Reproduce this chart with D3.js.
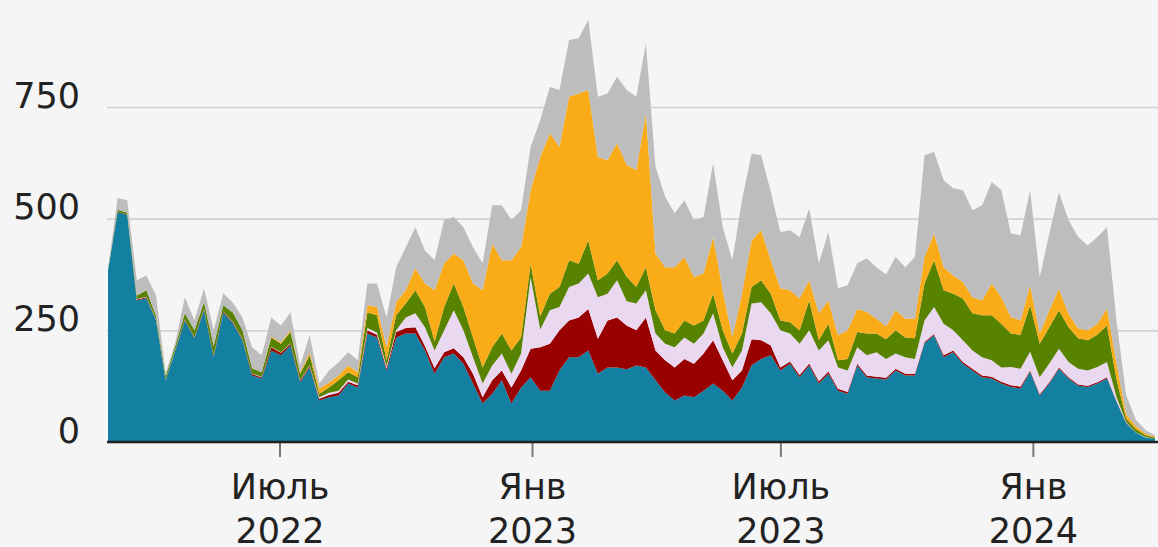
<!DOCTYPE html>
<html>
<head>
<meta charset="utf-8">
<script src="https://cdn.jsdelivr.net/npm/d3@7"></script>
<style>
  body { margin: 0; background: #f5f5f5; }
  svg { display: block; font-family: "DejaVu Sans", sans-serif; }
</style>
</head>
<body>
<svg id="chart"></svg>
<script>
// weekly points, first week and count
const firstWeek = "2022-02-26";
const weekCount = 110;

const seriesKeys = ["teal", "red", "lavender", "green", "orange", "grey"];
const seriesColors = ["#1380A1", "#990000", "#EAD8F0", "#588300", "#FAAB18", "#BDBDBD"];

const teal = [384,515,508,317,322,272,138,205,272,232, 295,190,290,266,228,149,142,205,194,216,
  134,167,93,100,104,131,122,243,234,160, 234,243,243,205,153,190,198,175,131,86,
  108,138,86,122,145,115,115,160,190,190, 205,153,167,167,163,171,167,138,111,93,
  104,100,115,131,115,93,122,172,186,194, 160,175,145,171,131,153,115,108,171,145,
  142,140,160,149,149,221,239,190,201,175, 160,145,142,131,123,120,157,104,131,164,
  142,126,123,131,142,90,42,21,10,7];
const red = [0,1,1,2,2,1,1,1,2,2, 2,2,2,2,2,3,3,7,6,4,
  3,3,4,5,6,4,5,7,6,5, 12,12,14,10,12,11,12,15,22,14,
  30,22,36,38,64,97,105,90,82,89, 93,78,105,112,98,79,112,67,72,74,
  82,75,83,97,68,45,38,58,42,22, 7,5,5,5,5,5,4,4,4,4,
  4,4,4,4,4,3,3,4,4,4, 4,4,4,4,4,4,3,3,3,3,
  3,3,3,3,3,1,1,0,0,0];
const lavender = [0,0,0,1,1,1,1,1,1,1, 1,1,1,1,1,1,1,1,1,1,
  1,2,3,5,5,5,4,5,5,5, 4,24,31,42,40,49,85,60,37,31,
  33,38,31,38,160,40,75,52,75,76, 79,93,60,83,54,60,61,38,37,45,
  48,45,45,60,29,29,45,80,85,72, 83,63,70,74,69,70,48,48,37,45,
  55,42,34,37,33,48,60,71,45,49, 41,41,37,32,41,40,42,38,42,42,
  34,35,34,34,34,9,2,1,1,0];
const green = [2,4,4,8,15,8,8,8,13,15, 15,22,13,21,19,12,10,21,19,25,
  15,22,8,12,23,16,14,35,39,13, 34,31,52,45,20,52,60,52,44,36,
  41,45,52,36,30,29,37,45,60,44, 74,38,45,45,55,37,51,52,30,31,
  38,41,29,44,38,31,38,37,49,44, 22,25,30,67,23,37,16,26,34,49,
  42,44,52,44,46,83,105,75,82,93, 83,94,101,98,75,76,104,75,81,86,
  78,68,68,72,82,40,7,7,4,3];
const orange = [0,0,0,0,0,0,0,0,0,0, 0,0,0,0,0,0,0,2,3,4,
  3,7,12,11,11,15,11,16,18,29, 29,30,49,53,115,98,67,105,121,173,
  232,164,202,202,165,357,359,314,366,381, 337,276,254,262,250,262,345,127,141,148,
  142,108,105,127,90,36,89,104,112,75, 72,72,71,45,60,52,56,64,52,48,
  33,29,45,42,44,59,60,51,41,37, 36,33,71,59,37,32,45,23,38,48,
  30,22,22,25,38,35,10,7,4,2];
const grey = [2,26,28,34,33,46,6,7,36,22, 31,35,27,22,29,47,38,43,38,40,
  15,38,11,27,29,30,27,49,53,67, 78,96,92,74,67,97,82,74,81,60,
  86,123,90,83,97,83,104,127,127,124, 157,135,149,149,168,164,157,194,158,121,
  127,128,127,165,141,173,209,195,168,153, 126,134,138,161,112,153,105,101,102,120,
  115,116,119,115,138,228,183,195,195,206, 195,213,227,240,187,191,213,126,172,216,
  210,205,190,194,182,95,43,14,8,3];

const yTicks = [0, 250, 500, 750];
const xTickDates = ["2022-07-01", "2023-01-01", "2023-07-01", "2024-01-01"];
const xTickLabels = [["Июль", "2022"], ["Янв", "2023"], ["Июль", "2023"], ["Янв", "2024"]];

const width = 1158;
const height = 547;
const plotLeft = 107;
const baseY = 442;
const fontFamily = "DejaVu Sans";

const svg = d3.select("#chart").attr("width", width).attr("height", height);
svg.append("rect").attr("width", width).attr("height", height).attr("fill", "#f5f5f5");

const start = d3.utcParse("%Y-%m-%d")(firstWeek);
const dates = d3.range(weekCount).map((i) => d3.utcDay.offset(start, 7 * i));
const seriesData = { teal, red, lavender, green, orange, grey };

const rows = dates.map((d, i) => {
  const row = { date: d };
  seriesKeys.forEach((k) => { row[k] = seriesData[k][i]; });
  return row;
});

const xScale = d3.scaleUtc()
  .domain([dates[0], dates[dates.length - 1]])
  .range([108, 1155]);

const yScale = d3.scaleLinear()
  .domain([0, 750])
  .range([baseY, 107]);

// gridlines + y labels
const yAxis = d3.axisLeft(yScale)
  .tickValues(yTicks)
  .tickSize(-(width - plotLeft))
  .tickPadding(27);

const gy = svg.append("g")
  .attr("transform", "translate(" + plotLeft + ",0)")
  .call(yAxis)
  .attr("font-family", fontFamily)
  .attr("font-size", 35);
gy.select(".domain").remove();
gy.selectAll(".tick line").attr("stroke", "#d2d2d2").attr("stroke-width", 1.6);
gy.selectAll(".tick text")
  .attr("fill", "#222")
  .attr("dy", "0.18em")
  .attr("transform", "translate(0,-6)");

// stacked areas
const stacked = d3.stack().keys(seriesKeys)(rows);

const area = d3.area()
  .x((d) => xScale(d.data.date))
  .y0((d) => yScale(d[0]))
  .y1((d) => yScale(d[1]));

svg.append("g")
  .selectAll("path")
  .data(stacked)
  .enter()
  .append("path")
  .attr("fill", (d, i) => seriesColors[i])
  .attr("d", area);

// x axis
const parseTick = d3.utcParse("%Y-%m-%d");
const xAxis = d3.axisBottom(xScale)
  .tickValues(xTickDates.map(parseTick))
  .tickSize(15)
  .tickFormat("");

const gx = svg.append("g")
  .attr("transform", "translate(0," + baseY + ")")
  .call(xAxis)
  .attr("font-family", fontFamily)
  .attr("font-size", 35);
gx.select(".domain").remove();
gx.selectAll(".tick line").attr("stroke", "#777").attr("stroke-width", 2);
gx.selectAll(".tick").each(function (d, i) {
  const t = d3.select(this);
  t.append("text")
    .attr("y", 57)
    .attr("text-anchor", "middle")
    .attr("fill", "#222")
    .text(xTickLabels[i][0]);
  t.append("text")
    .attr("y", 101)
    .attr("text-anchor", "middle")
    .attr("fill", "#222")
    .text(xTickLabels[i][1]);
});

// zero line
svg.append("line")
  .attr("x1", plotLeft)
  .attr("x2", width)
  .attr("y1", yScale(0))
  .attr("y2", yScale(0))
  .attr("stroke", "#222")
  .attr("stroke-width", 2.5);
</script>
</body>
</html>
